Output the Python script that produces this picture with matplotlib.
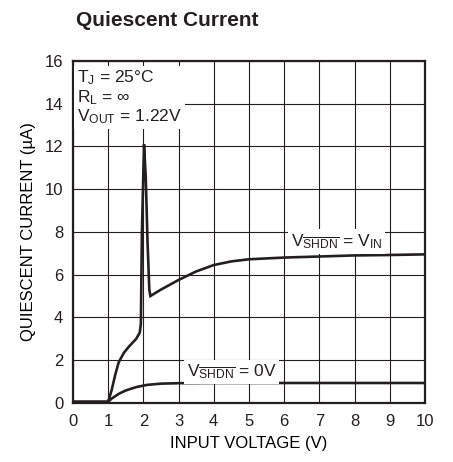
import matplotlib
matplotlib.use("Agg")
import matplotlib.pyplot as plt

# ---- data ----------------------------------------------------------------
vin_x = [0, 1.0, 1.1, 1.2, 1.3, 1.45, 1.6, 1.8, 1.9, 1.93, 1.96, 2.02, 2.07,
         2.12, 2.17, 2.2, 2.5, 3.0, 3.5, 4.0, 4.5, 5.0, 6.0, 7.0, 8.0, 9.0, 10.0]
vin_y = [0.05, 0.05, 0.6, 1.3, 1.9, 2.35, 2.65, 3.0, 3.3, 3.7, 8.0, 12.1, 10.5,
         7.5, 5.3, 5.0, 5.3, 5.75, 6.15, 6.45, 6.62, 6.72, 6.8, 6.85, 6.9, 6.92, 6.95]

off_x = [0, 1.0, 1.1, 1.3, 1.5, 1.8, 2.1, 2.5, 3.0, 4.0, 6.0, 8.0, 10.0]
off_y = [0.05, 0.05, 0.2, 0.42, 0.58, 0.74, 0.84, 0.9, 0.92, 0.93, 0.93, 0.93, 0.93]

x_ticks = list(range(0, 11))
y_ticks = list(range(0, 17, 2))

INK = "#231f20"
FONT = ["Liberation Sans", "DejaVu Sans"]

plt.rcParams.update({
    "font.family": FONT,
    "font.size": 12,
    "mathtext.fontset": "custom",
    "mathtext.rm": "Liberation Sans",
    "mathtext.it": "Liberation Sans",
    "text.color": INK,
})

fig = plt.figure(figsize=(4.53, 4.62), dpi=100)
ax = fig.add_axes([0.161, 0.128, 0.777, 0.740])

ax.plot(vin_x, vin_y, color=INK, lw=1.9, solid_joinstyle="miter", zorder=4)
ax.plot(off_x, off_y, color=INK, lw=1.9, zorder=4)

ax.set_xlim(0, 10)
ax.set_ylim(0, 16)
ax.set_xticks(x_ticks)
ax.set_yticks(y_ticks)
ax.grid(True, color=INK, lw=0.8, zorder=1)
ax.set_axisbelow(True)
ax.tick_params(axis="x", length=0, pad=8, labelsize=12, colors=INK)
ax.tick_params(axis="y", length=0, pad=7, labelsize=12, colors=INK)
for s in ax.spines.values():
    s.set_linewidth(1.6)
    s.set_color(INK)

ax.set_xlabel("INPUT VOLTAGE (V)", fontsize=12, labelpad=5)
ax.set_ylabel("QUIESCENT CURRENT (\u00b5A)", fontsize=12, labelpad=6)

box = dict(facecolor="white", edgecolor="none", pad=2)
ax.text(0.12, 15.65, "T$_\\mathrm{J}$ = 25\u00b0C\nR$_\\mathrm{L}$ = \u221e\nV$_\\mathrm{OUT}$ = 1.22V",
        fontsize=12.5, va="top", ha="left", linespacing=1.05, bbox=box, zorder=5)
ax.text(7.5, 7.55, r"V$_{\overline{\mathrm{SHDN}}}$ = V$_\mathrm{IN}$",
        fontsize=12.5, ha="center", va="center", bbox=box, zorder=5)
ax.text(4.5, 1.45, r"V$_{\overline{\mathrm{SHDN}}}$ = 0V",
        fontsize=12.5, ha="center", va="center", bbox=box, zorder=5)

fig.text(0.168, 0.955, "Quiescent Current", fontsize=15, fontweight="bold",
         ha="left", va="center")

fig.savefig("out.png", dpi=100, facecolor="white")
